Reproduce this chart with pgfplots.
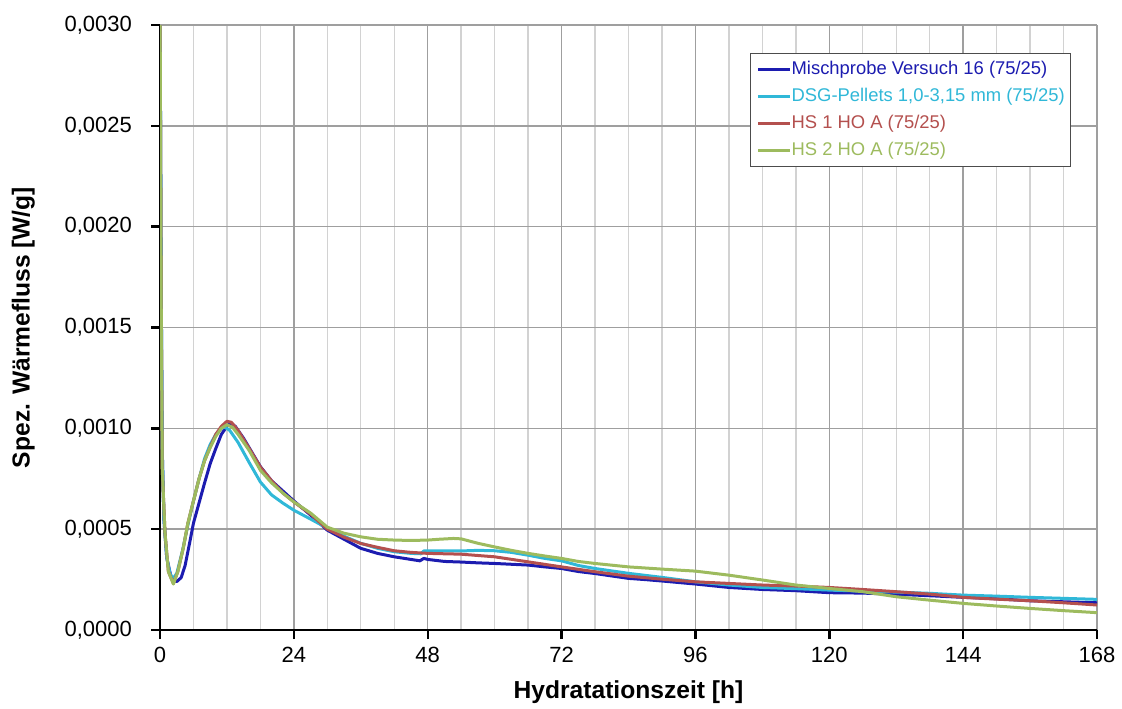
\documentclass[border=0pt]{standalone}
\usepackage{fontspec}
\setmainfont{Liberation Sans}
\usepackage{pgfplots}
\pgfplotsset{compat=1.18}

\definecolor{cblue}{HTML}{1C1CB0}
\definecolor{ccyan}{HTML}{30B8D8}
\definecolor{cred}{HTML}{B4504E}
\definecolor{cgreen}{HTML}{9DBB5E}

\begin{document}
\begin{tikzpicture}
\useasboundingbox (-80pt,-39pt) rectangle (481pt,315pt);
\begin{axis}[
    scale only axis,
    width=468.5pt, height=302.5pt,
    at={(0,0)}, anchor=south west,
    xmin=0, xmax=168, ymin=0, ymax=0.003,
    xtick={0,24,...,168},
    minor x tick num=3,
    ytick={0,0.0005,0.001,0.0015,0.002,0.0025,0.003},
    scaled y ticks=false,
    axis x line=bottom, axis y line=left,
    axis line style={-, black, line width=1.2pt},
    tick align=outside,
    major tick length=4.5pt, minor tick length=0pt,
    tick style={black, line width=1.2pt},
    xmajorgrids, xminorgrids, ymajorgrids,
    major grid style={gray!75, line width=0.7pt},
    minor x grid style={gray!35, line width=0.7pt},
    /pgf/number format/assume math mode=true,
    yticklabel style={/pgf/number format/.cd, fixed, fixed zerofill, precision=4, use comma},
    ticklabel style={font=\fontsize{11}{13}\selectfont},
    yticklabel shift=6pt,
    xticklabel shift=0.5pt,
    xlabel={\textbf{Hydratationszeit [h]}},
    ylabel={\textbf{Spez. Wärmefluss [W/g]}},
    label style={font=\fontsize{12.3}{14}\selectfont},
    xlabel style={at={(axis description cs:0.5,-0.1124)}, anchor=base},
    ylabel style={at={(axis description cs:-0.146,0.5)}, anchor=center},
    legend style={at={(rel axis cs:0.6297,0.9537)}, anchor=north west,
        draw=black!70, line width=0.6pt, fill=white,
        inner sep=3pt, row sep=3.3pt,
        font=\fontsize{9.2}{11}\selectfont,
        nodes={inner xsep=0pt, inner ysep=1pt},
        /tikz/every odd column/.style={column sep=0pt}},
    legend cell align=left,
    legend image code/.code={\draw[#1] (0pt,0pt) -- (16pt,0pt);},
    every axis plot/.append style={line width=1.5pt, line join=round},
]
\addplot[cblue] coordinates {
(0,0.0032) (0.2,0.0018) (0.4,0.0009) (0.7,0.00055) (1.2,0.00036) (2,0.00026)
(3,0.00024) (3.8,0.00026) (4.5,0.00032) (5.3,0.00043) (6,0.00053) (7,0.00063)
(8,0.00073) (9,0.000825) (10,0.0009) (11,0.00097) (12,0.00101) (12.6,0.001026)
(13.5,0.00101) (15,0.00095) (16.5,0.00088) (18,0.00081) (20,0.00074) (22,0.00069)
(24,0.00064) (27,0.00057) (30,0.000495) (33,0.00045) (36,0.000405) (39,0.00038)
(42,0.000363) (45,0.00035) (46.6,0.000343) (47.3,0.000355) (48,0.00035) (51,0.00034)
(54,0.000337) (57,0.000333) (60,0.00033) (63,0.000326) (66,0.000322) (69,0.000313)
(72,0.000305) (75,0.00029) (78,0.00028) (81,0.000268) (84,0.000256) (87,0.00025)
(90,0.000243) (96,0.000228) (102,0.000211) (108,0.000201) (114,0.000195) (120,0.000185)
(126,0.000183) (132,0.000177) (138,0.00017) (144,0.000162) (150,0.000155) (156,0.000145)
(162,0.00014) (168,0.000135)
};
\addlegendentry{\textcolor{cblue}{Mischprobe Versuch 16 (75/25)}}
\addplot[ccyan] coordinates {
(0,0.0032) (0.2,0.0018) (0.4,0.0009) (0.7,0.00055) (1.2,0.00036) (1.8,0.00028)
(2.3,0.000255) (3,0.00028) (4,0.00039) (5,0.00052) (6,0.00064) (7,0.00075)
(8,0.00085) (9,0.00092) (10,0.00097) (11,0.001) (11.6,0.001006) (12.5,0.00099)
(14,0.00093) (16,0.00083) (18,0.000734) (20,0.00067) (22,0.00063) (24,0.000594)
(27,0.00055) (30,0.000505) (33,0.000465) (36,0.00043) (39,0.000405) (42,0.000388)
(45,0.00038) (46.8,0.000378) (47.3,0.000392) (48,0.000393) (54,0.000392) (57,0.000395)
(60,0.000393) (63,0.000385) (66,0.000371) (69,0.000355) (72,0.000343) (75,0.00032)
(78,0.000305) (84,0.000281) (90,0.000261) (96,0.000239) (102,0.000223) (108,0.000211)
(114,0.000205) (120,0.000198) (126,0.000193) (132,0.000188) (138,0.000182) (144,0.000173)
(150,0.000168) (156,0.000162) (162,0.000157) (168,0.000152)
};
\addlegendentry{\textcolor{ccyan}{DSG-Pellets 1,0-3,15 mm (75/25)}}
\addplot[cred] coordinates {
(0,0.0032) (0.2,0.0017) (0.4,0.0008) (0.9,0.00048) (1.5,0.00029) (2.4,0.000231)
(3.2,0.00029) (4.2,0.00041) (5,0.00053) (6,0.00064) (7,0.00075) (8,0.00084)
(9,0.000907) (10,0.00097) (11,0.00101) (12,0.001035) (12.8,0.00103) (14,0.00099)
(14.9,0.000949) (16,0.0009) (18,0.000808) (20,0.00074) (22,0.00068) (24,0.000635)
(27,0.000575) (30,0.0005) (33,0.00046) (36,0.000429) (39,0.00041) (42,0.000393)
(45,0.000385) (48,0.00038) (54,0.000376) (60,0.000363) (66,0.000338) (72,0.000313)
(78,0.000289) (84,0.000267) (90,0.000252) (96,0.000239) (102,0.000231) (108,0.000223)
(114,0.000218) (120,0.000211) (126,0.000201) (132,0.00019) (138,0.000178) (144,0.000162)
(150,0.000153) (156,0.000145) (162,0.000135) (168,0.000124)
};
\addlegendentry{\textcolor{cred}{HS 1 HO A (75/25)}}
\addplot[cgreen] coordinates {
(0,0.0032) (0.2,0.0017) (0.4,0.0008) (0.9,0.00048) (1.5,0.00029) (2.4,0.000228)
(3.2,0.00029) (4.2,0.00041) (5,0.00053) (6,0.00064) (7,0.00075) (8,0.00084)
(9,0.000905) (10,0.00096) (11,0.001) (12,0.001018) (13,0.001005) (14,0.00097)
(16,0.00089) (18,0.000792) (20,0.00073) (22,0.00068) (24,0.000635) (27,0.00058)
(30,0.00051) (33,0.00048) (36,0.000462) (39,0.00045) (42,0.000446) (45,0.000444)
(48,0.000446) (50,0.00045) (52.6,0.000454) (54,0.000452) (57,0.00043) (60,0.000412)
(63,0.000395) (66,0.00038) (69,0.000367) (72,0.000355) (75,0.00034) (78,0.00033)
(84,0.000313) (90,0.000302) (96,0.000292) (102,0.000272) (108,0.000248) (114,0.000223)
(120,0.000206) (126,0.00019) (132,0.000165) (138,0.000148) (144,0.000132) (150,0.000119)
(156,0.000107) (162,0.000096) (168,0.000086)
};
\addlegendentry{\textcolor{cgreen}{HS 2 HO A (75/25)}}
\end{axis}
\end{tikzpicture}
\end{document}
